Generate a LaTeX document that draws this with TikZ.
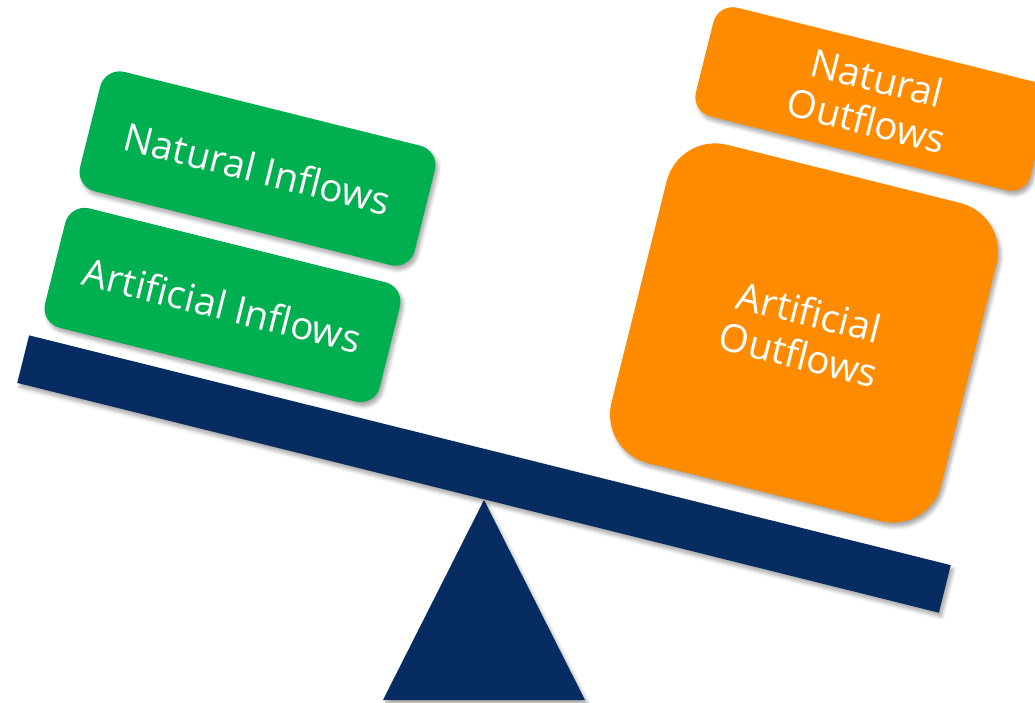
\documentclass[tikz,border=0pt]{standalone}
\usepackage{fontspec}
\setmainfont{Open Sans}
\usetikzlibrary{shadows.blur}

\definecolor{inflowgreen}{RGB}{0,176,80}
\definecolor{outfloworange}{RGB}{255,140,0}
\definecolor{seesawblue}{RGB}{7,44,98}

\begin{document}
\begin{tikzpicture}[x=0.02cm, y=-0.02cm,
                    soft_shadow/.style={blur shadow={shadow xshift=0.05cm, shadow yshift=-0.08cm, shadow blur steps=6, shadow opacity=35}},
                    inflow_box/.style={rectangle, rounded corners=0.4cm, fill=inflowgreen, text=white, rotate=-14, minimum width=6.9cm, minimum height=2.46cm, soft_shadow, font=\fontsize{22}{25}\selectfont},
                    outflow_box/.style={rectangle, rounded corners=0.4cm, fill=outfloworange, text=white, rotate=-14, align=center, minimum width=6.9cm, minimum height=2.24cm, soft_shadow, font=\fontsize{22}{25}\selectfont},
                    beam_bar/.style={rectangle, fill=seesawblue, rotate=-14, minimum width=19cm, minimum height=0.98cm, soft_shadow}
                ]
                    \useasboundingbox (0,0) rectangle (1035,703);
                    % fulcrum
                    \coordinate (pivot) at (484,500);
                    \fill[seesawblue, soft_shadow] (pivot) -- (585,700) -- (383,700) -- cycle;
                    % the beam
                    \node[beam_bar] (beam) at (484,474) {};
                    % left side
                    \node[inflow_box] (natural_in) at (257.5,168.5) {Natural Inflows};
                    \node[inflow_box] (artificial_in) at (222.5,305) {Artificial Inflows};
                    % right side
                    \node[outflow_box] (natural_out) at (872,99) {Natural\\Outflows};
                    \node[outflow_box, rounded corners=1cm, minimum width=6.8cm, minimum height=6.56cm] (artificial_out) at (804,333) {Artificial\\Outflows};
                \end{tikzpicture}
\end{document}
